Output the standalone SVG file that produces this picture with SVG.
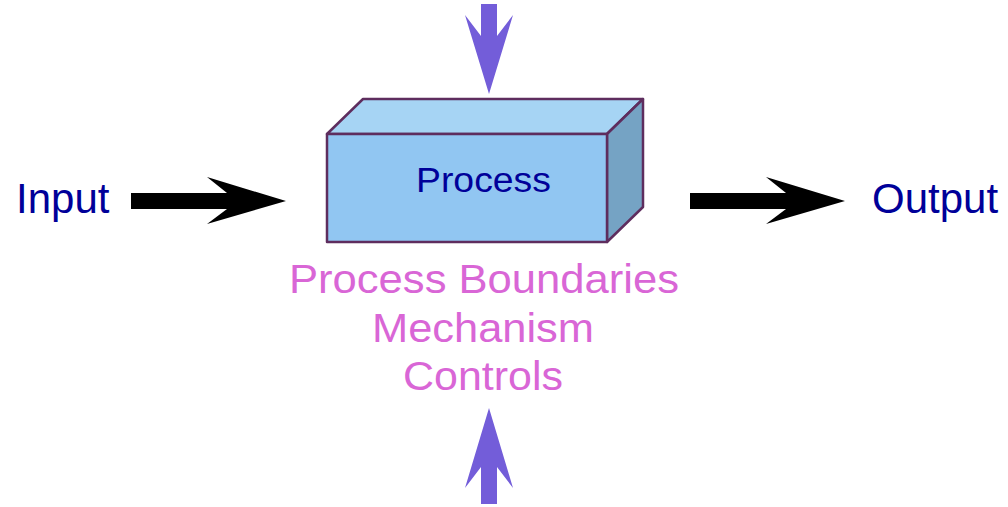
<svg xmlns="http://www.w3.org/2000/svg" width="1008" height="507" viewBox="0 0 1008 507">
<style>
.lbl{font-family:"Liberation Sans",Arial,sans-serif;fill:#000099}
.pink{font-family:"Liberation Sans",Arial,sans-serif;fill:#D966D6;font-size:40px;text-anchor:middle}
.edge{stroke:#5E2D5E;stroke-width:2.5;stroke-linejoin:round}
.black{fill:#000000}
.purple{fill:#735DD9}
</style>
<rect width="1008" height="507" fill="#FFFFFF"/>
<g id="process">
<polygon class="edge" points="327,134 363,99 643,99 607,134" fill="#A6D4F4"/>
<polygon class="edge" points="607,134 643,99 643,207 607,242" fill="#75A3C4"/>
<rect class="edge" x="327" y="134" width="280" height="108" fill="#91C6F2"/>
<text class="lbl" x="483.5" y="192" font-size="35" text-anchor="middle" textLength="135" lengthAdjust="spacingAndGlyphs">Process</text>
</g>
<g id="input"><text class="lbl" x="16" y="213" font-size="42">Input</text></g>
<g id="output"><text class="lbl" x="872" y="213" font-size="42">Output</text></g>
<g id="labels">
<text class="pink" x="484" y="293" textLength="390" lengthAdjust="spacingAndGlyphs">Process Boundaries</text>
<text class="pink" x="483" y="342" textLength="222" lengthAdjust="spacingAndGlyphs">Mechanism</text>
<text class="pink" x="483" y="390" textLength="160" lengthAdjust="spacingAndGlyphs">Controls</text>
</g>
<g id="connectors">
<polygon class="black" points="131,193 227,193 207,177 286,201 207,224 227,209 131,209"/>
<polygon class="black" points="690,193 786,193 766,177 845,201 766,224 786,209 690,209"/>
<polygon class="purple" points="481,4 497,4 497,36 513,15 489,94 465,15 481,36"/>
<polygon class="purple" points="481,504 497,504 497,467 513,488 489,408 465,488 481,467"/>
</g>
</svg>
